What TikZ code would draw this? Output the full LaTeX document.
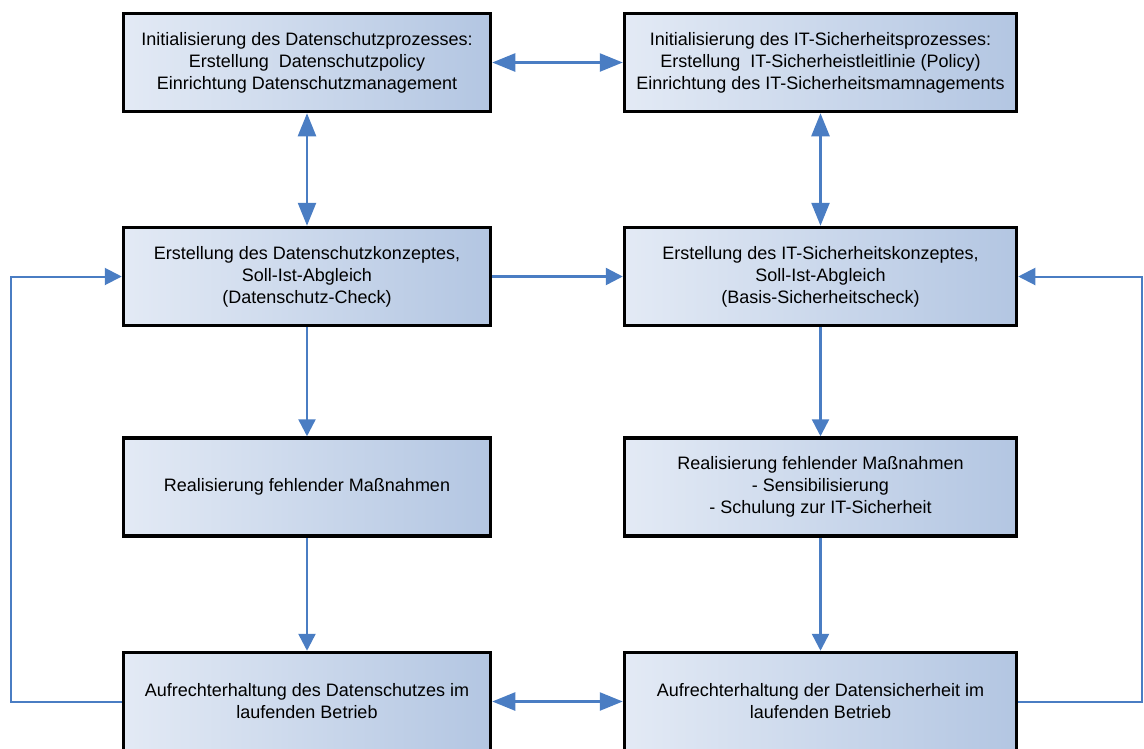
\documentclass[tikz,border=0pt]{standalone}
\usepackage{fontspec}
\setmainfont{Liberation Sans}
\usetikzlibrary{arrows.meta}
\definecolor{boxL}{HTML}{E3EAF5}
\definecolor{boxR}{HTML}{B3C6E2}
\definecolor{arr}{HTML}{4A7DC3}
\begin{document}
\begin{tikzpicture}[x=1pt,y=-1pt,
  box/.style={draw=black, line width=3.5pt, left color=boxL, right color=boxR,
    minimum height=98pt, align=center, inner sep=0pt,
    font=\fontsize{18}{22}\selectfont, text=black},
  lbox/.style={box, minimum width=367pt},
  rbox/.style={box, minimum width=392pt},
  conn/.style={draw=arr, line width=2.5pt},
  thin conn/.style={draw=arr, line width=2pt},
  tipend/.style={-{Triangle[length=17pt,width=17pt]}},
  tipboth/.style={{Triangle[length=23pt,width=18pt]}-{Triangle[length=23pt,width=18pt]}}]
\useasboundingbox (0,0) rectangle (1144,748);
\clip (0,0) rectangle (1144,748);

\node[lbox] (dp1) at (307,62.5) {Initialisierung des Datenschutzprozesses:\\Erstellung\ \ Datenschutzpolicy\\Einrichtung Datenschutzmanagement};
\node[rbox] (it1) at (820.5,62.5) {Initialisierung des IT-Sicherheitsprozesses:\\Erstellung\ \ IT-Sicherheistleitlinie (Policy)\\Einrichtung des IT-Sicherheitsmamnagements};
\node[lbox] (dp2) at (307,276.5) {Erstellung des Datenschutzkonzeptes,\\Soll-Ist-Abgleich\\(Datenschutz-Check)};
\node[rbox] (it2) at (820.5,276.5) {Erstellung des IT-Sicherheitskonzeptes,\\Soll-Ist-Abgleich\\(Basis-Sicherheitscheck)};
\node[lbox] (dp3) at (307,487) {Realisierung fehlender Maßnahmen};
\node[rbox] (it3) at (820.5,487) {Realisierung fehlender Maßnahmen\\- Sensibilisierung\\- Schulung zur IT-Sicherheit};
\node[lbox] (dp4) at (307,701.5) {Aufrechterhaltung des Datenschutzes im\\laufenden Betrieb};
\node[rbox] (it4) at (820.5,701.5) {Aufrechterhaltung der Datensicherheit im\\laufenden Betrieb};

\coordinate (lb) at (11,701.5);
\coordinate (lt) at (11,276.5);
\coordinate (rb) at (1142,701.5);
\coordinate (rt) at (1142,276.5);

\draw[conn, tipboth] (dp1.east) -- (it1.west);
\draw[conn, tipboth] (dp1.south) -- (dp2.north);
\draw[conn, tipboth] (it1.south) -- (it2.north);
\draw[conn, tipend] (dp2.east) -- (it2.west);
\draw[conn, tipend] (dp2.south) -- (dp3.north);
\draw[conn, tipend] (it2.south) -- (it3.north);
\draw[conn, tipend] (dp3.south) -- (dp4.north);
\draw[conn, tipend] (it3.south) -- (it4.north);
\draw[conn, tipboth] (dp4.east) -- (it4.west);
\draw[thin conn, tipend] (dp4.west) -- (lb) -- (lt) -- (dp2.west);
\draw[thin conn, tipend] (it4.east) -- (rb) -- (rt) -- (it2.east);
\end{tikzpicture}
\end{document}
